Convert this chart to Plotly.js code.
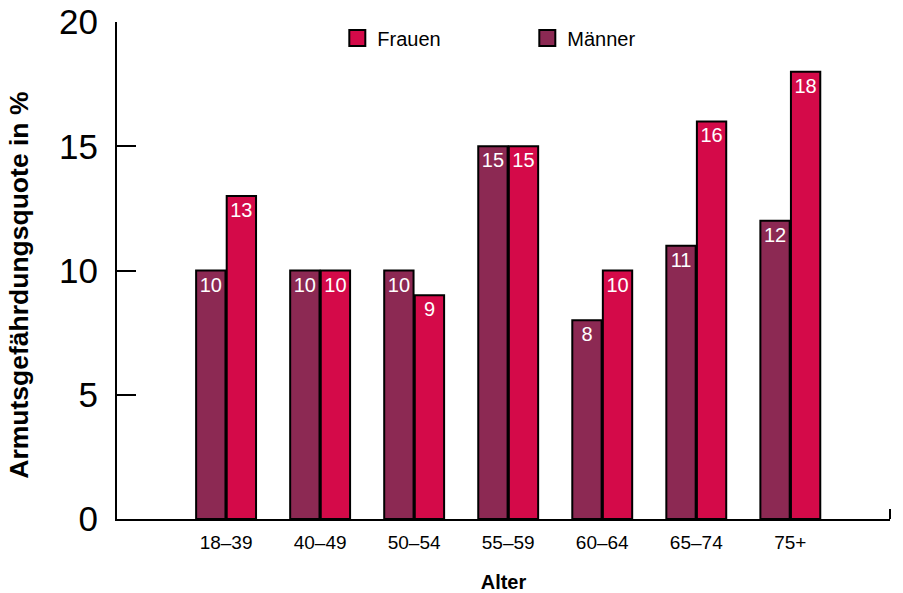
<!DOCTYPE html>
<html>
<head>
<meta charset="utf-8">
<script src="https://cdn.plot.ly/plotly-3.0.1.min.js"></script>
<style>html,body{margin:0;padding:0;background:#fff;}#chart{width:903px;height:593px;}</style>
</head>
<body>
<div id="chart"></div>
<script>
const categories = ["18–39", "40–49", "50–54", "55–59", "60–64", "65–74", "75+"];
const maenner = [10, 10, 10, 15, 8, 11, 12];
const frauen = [13, 10, 9, 15, 10, 16, 18];
const seriesNames = ["Männer", "Frauen"];
const yTicks = [0, 5, 10, 15, 20];
const yTitle = "Armutsgefährdungsquote in %";
const xTitle = "Alter";

const colM = "#8C2953";
const colF = "#D40A49";
const font = "Liberation Sans, Arial, Helvetica, sans-serif";

function barTrace(name, vals, color) {
  return {
    type: "bar", name: name, x: categories, y: vals, showlegend: false,
    marker: {color: color, line: {color: "#000", width: 2}},
    text: vals.map(String), textposition: "inside", insidetextanchor: "end",
    textfont: {color: "#fff", size: 20, family: font},
    constraintext: "none", cliponaxis: false, hoverinfo: "skip"
  };
}
function legendTrace(name, color) {
  return {
    type: "scatter", mode: "markers", name: name, x: [null], y: [null],
    marker: {symbol: "square", size: 18, color: color, line: {color: "#000", width: 2}},
    hoverinfo: "skip"
  };
}

const data = [
  barTrace(seriesNames[0], maenner, colM),
  barTrace(seriesNames[1], frauen, colF),
  legendTrace(seriesNames[1], colF),
  legendTrace(seriesNames[0], colM)
];

const layout = {
  width: 903, height: 593,
  margin: {l: 117, r: 13, t: 22, b: 74},
  paper_bgcolor: "#fff", plot_bgcolor: "#fff",
  font: {family: font, color: "#000"},
  barmode: "group", bargap: 0.35, bargroupgap: 0.04,
  showlegend: true,
  legend: {orientation: "h", x: 0.285, y: 0.968, xanchor: "left", yanchor: "middle",
    entrywidth: 145, entrywidthmode: "pixels",
    font: {size: 20, family: font}, itemwidth: 30, bgcolor: "rgba(0,0,0,0)"},
  xaxis: {
    type: "category", range: [-1.16, 7.06], showline: true, linecolor: "#000", linewidth: 2,
    ticks: "", showgrid: false, zeroline: false, tickfont: {size: 19, family: font},
    ticklabelstandoff: 5, automargin: false,
    title: {text: "<b>" + xTitle + "</b>", font: {size: 20, family: font}, standoff: 26}
  },
  yaxis: {
    range: [0, 20], tickvals: yTicks, ticks: "inside", ticklen: 19, tickwidth: 2, tickcolor: "#000",
    showline: true, linecolor: "#000", linewidth: 2, showgrid: false, zeroline: false,
    tickfont: {size: 35, family: font}, ticklabelstandoff: 10, automargin: false
  },
  annotations: [{
    text: "<b>" + yTitle + "</b>", xref: "paper", yref: "paper", x: -0.127, y: 0.471,
    xanchor: "center", yanchor: "middle", textangle: -90, showarrow: false,
    font: {size: 26.5, family: font, color: "#000"}
  }],
  shapes: [{type: "line", xref: "paper", yref: "paper", x0: 1, x1: 1, y0: 0, y1: 0.02,
    line: {color: "#000", width: 2}}]
};

Plotly.newPlot("chart", data, layout, {displayModeBar: false, staticPlot: true});
</script>
</body>
</html>
